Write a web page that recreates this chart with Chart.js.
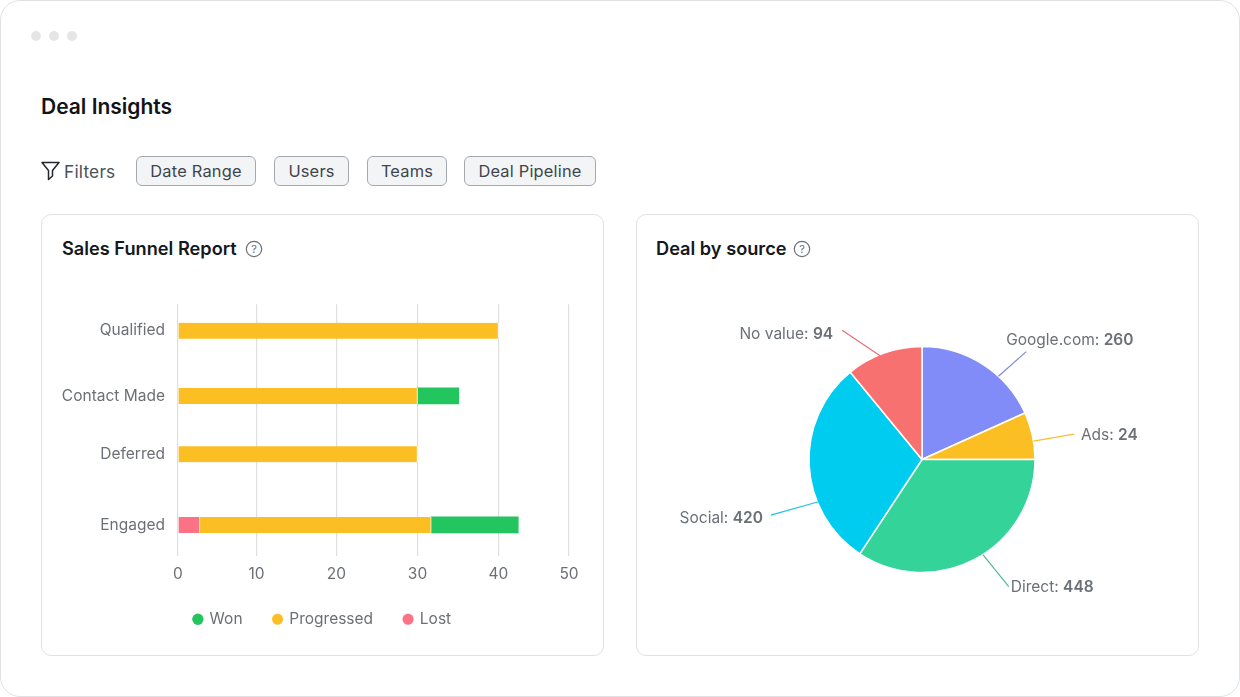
<!DOCTYPE html>
<html>
<head>
<meta charset="utf-8">
<title>Deal Insights</title>
<script src="https://cdn.jsdelivr.net/npm/chart.js@4"></script>
<style>
    html, body { margin: 0; padding: 0; background: #fff; }
    body { width: 1240px; height: 697px; position: relative; overflow: hidden; font-family: Inter, sans-serif; }
    .window { position: absolute; left: 0; top: 0; width: 1238px; height: 695px; border: 1px solid #dfe1e3; border-radius: 20px; }
    .dot { position: absolute; top: 31px; width: 10px; height: 10px; border-radius: 50%; background: #e5e5e5; }
    h1 { position: absolute; left: 41px; top: 94px; margin: 0; font-size: 21px; line-height: 26px; font-weight: 600; color: #111418; }
    .filters { position: absolute; left: 64px; top: 161px; font-size: 17.3px; line-height: 22px; color: #4b5158; letter-spacing: .2px; }
    .filtro { position: absolute; top: 156px; height: 30px; box-sizing: border-box; border: 1px solid #a4a9ae; border-radius: 6px; background: #f3f4f6; font-size: 16.4px; line-height: 29px; text-align: center; color: #3f454c; letter-spacing: .2px; }
    .card { position: absolute; top: 214px; width: 561px; height: 440px; border: 1px solid #dfe1e3; border-radius: 10px; }
    h2 { position: absolute; top: 237px; margin: 0; font-size: 18.2px; line-height: 22px; font-weight: 600; color: #15181c; }
    canvas { position: absolute; }
</style>
</head>
<body>
<div class="window"></div>
<div class="dot" style="left:31px"></div>
<div class="dot" style="left:49px"></div>
<div class="dot" style="left:67px"></div>

<h1>Deal Insights</h1>

<svg style="position:absolute;left:41px;top:161px" width="19" height="20" viewBox="0 0 19 20">
    <path d="M1 1.5H18L11.5 9.5V15L7.5 18.5V9.5Z" fill="none" stroke="#23272c" stroke-width="1.5" stroke-linejoin="round"/>
</svg>
<div class="filters">Filters</div>
<div class="filtro" style="left:136px;width:120px">Date Range</div>
<div class="filtro" style="left:274px;width:75px">Users</div>
<div class="filtro" style="left:367px;width:80px">Teams</div>
<div class="filtro" style="left:464px;width:132px">Deal Pipeline</div>

<div class="card" style="left:41px"></div>
<div class="card" style="left:636px"></div>

<h2 style="left:62px">Sales Funnel Report</h2>
<svg style="position:absolute;left:245px;top:240px" width="18" height="18" viewBox="0 0 18 18">
    <circle cx="9" cy="9" r="7.7" fill="none" stroke="#6b7076" stroke-width="1.2"/>
    <text x="9" y="13" font-size="11" text-anchor="middle" fill="#6b7076">?</text>
</svg>
<h2 style="left:656px">Deal by source</h2>
<svg style="position:absolute;left:793px;top:240px" width="18" height="18" viewBox="0 0 18 18">
    <circle cx="9" cy="9" r="7.7" fill="none" stroke="#6b7076" stroke-width="1.2"/>
    <text x="9" y="13" font-size="11" text-anchor="middle" fill="#6b7076">?</text>
</svg>

<canvas id="funnelChart" style="left:44px;top:282px;width:556px;height:363px" width="556" height="363"></canvas>
<canvas id="sourceChart" style="left:641px;top:290px;width:562px;height:339px" width="562" height="339"></canvas>

<script>
// ============================
// 1. Datos
// ============================
const etapas = ['Qualified', 'Contact Made', 'Deferred', 'Engaged'];
const lost = [null, null, null, 2.8];
const progressed = [40, 30, 30, 28.9];
const won = [null, 5.1, null, 11.1];

const fuentes = ['Google.com', 'Ads', 'Direct', 'Social', 'No value'];
const fuenteEtiquetas = [260, 24, 448, 420, 94];   // lo que dice el texto
const fuenteGrados = [65.7, 24.3, 123.4, 107.2, 39.4];   // lo que mide cada porción en el dibujo

const ticksX = [0, 10, 20, 30, 40, 50];

const colorTexto = '#6b7076';
const fuente = 'Inter, sans-serif';

// ============================
// 2. Escalas con paradas (los ejes del original no son uniformes)
// ============================
function pixelConParadas(scale, value) {
    const paradas = scale.options.paradas;
    let i = 0;
    while (i < paradas.length - 2 && value > paradas[i + 1][0]) i++;
    const a = paradas[i], b = paradas[i + 1];
    const t = (value - a[0]) / (b[0] - a[0]);
    const inicio = scale.isHorizontal() ? scale.left : scale.top;
    const largo = scale.isHorizontal() ? scale.width : scale.height;
    return inicio + largo * (a[1] + (b[1] - a[1]) * t);
}

class LinealParadas extends Chart.LinearScale {
    getPixelForValue(value) { return pixelConParadas(this, value); }
}
LinealParadas.id = 'linealParadas';
LinealParadas.defaults = Chart.LinearScale.defaults;

class CategoriaParadas extends Chart.CategoryScale {
    getPixelForValue(value) {
        if (typeof value !== 'number') value = this.parse(value);
        return pixelConParadas(this, value);
    }
}
CategoriaParadas.id = 'categoriaParadas';
CategoriaParadas.defaults = Chart.CategoryScale.defaults;

Chart.register(LinealParadas, CategoriaParadas);

// ============================
// 3. Sales Funnel Report
// ============================
const bordeSegmento = { top: 0, bottom: 0, left: 0, right: 1 };

// La leyenda del original no está centrada en el área del gráfico
const moverLeyenda = {
    id: 'moverLeyenda',
    afterLayout(chart) {
        chart.legend.left += 16;
        chart.legend.right += 16;
    }
};

new Chart(document.getElementById('funnelChart'), {
    type: 'bar',
    data: {
        labels: etapas,
        datasets: [
            { label: 'Lost', data: lost, backgroundColor: '#fb7185', borderWidth: bordeSegmento },
            { label: 'Progressed', data: progressed, backgroundColor: '#fbbf24', borderWidth: bordeSegmento },
            { label: 'Won', data: won, backgroundColor: '#22c55e', borderWidth: 0 }
        ]
    },
    options: {
        indexAxis: 'y',
        responsive: false,
        animation: false,
        layout: { padding: { top: 8, right: 31, bottom: 8, left: 0 } },
        datasets: {
            bar: {
                barThickness: 16,
                borderColor: '#ffffff',
                borderSkipped: false
            }
        },
        scales: {
            x: {
                type: 'linealParadas',
                stacked: true,
                min: 0,
                max: 50,
                // valor y fracción del ancho medidos en el original
                paradas: [[0, 0], [10, 0.2008], [20, 0.4049], [30, 0.6125], [40, 0.8197], [50, 1]],
                afterBuildTicks: (axis) => { axis.ticks = ticksX.map((value) => ({ value })); },
                afterFit: (axis) => { axis.height -= 12; },
                grid: { color: '#dddfe1', lineWidth: 1.2, drawTicks: false },
                border: { display: false },
                ticks: { color: colorTexto, padding: 9, font: { family: fuente, size: 15.5 } }
            },
            y: {
                type: 'categoriaParadas',
                stacked: true,
                paradas: [[0, 0.105], [1, 0.364], [2, 0.596], [3, 0.877]],
                afterFit: (axis) => { axis.width = 134; },
                grid: { display: false, drawTicks: false },
                border: { display: false },
                ticks: { color: colorTexto, padding: 13, font: { family: fuente, size: 15.5 } }
            }
        },
        plugins: {
            tooltip: { enabled: false },
            legend: {
                position: 'bottom',
                reverse: true,
                labels: {
                    usePointStyle: true,
                    pointStyle: 'circle',
                    boxWidth: 8,
                    boxHeight: 8,
                    padding: 31,
                    color: colorTexto,
                    font: { family: fuente, size: 15.5 }
                }
            }
        }
    },
    plugins: [moverLeyenda]
});

// ============================
// 4. Deal by source
// ============================
const coloresFuente = ['#818cf8', '#fbbf24', '#34d399', '#00ccf0', '#f87171'];
const coloresGuia = ['#7f88d8', '#f5c02f', '#4fb89a', '#1fc3dc', '#e0707a'];

// guía: ángulo desde arriba y radios; texto: desplazamiento desde el final de la guía
const guias = [
    { ini: 42.6, fin: 44, r0: 113, r1: 150, dx: -20, dy: -11, align: 'left' },
    { ini: 80.6, fin: 80.5, r0: 113, r1: 154, dx: 7, dy: 1, align: 'left' },
    { ini: 147.4, fin: 145.7, r0: 113, r1: 154, dx: 2, dy: 1, align: 'left' },
    { ini: 247.7, fin: 249.8, r0: 110, r1: 161, dx: -8, dy: 3, align: 'right' },
    { ini: 338, fin: 328.3, r0: 112, r1: 152, dx: -9, dy: 4, align: 'right' }
];

const etiquetasPastel = {
    id: 'etiquetasPastel',
    afterDatasetsDraw(chart) {
        const arco = chart.getDatasetMeta(0).data[0];
        const cx = arco.x, cy = arco.y;
        const punto = (grados, radio) => {
            const rad = grados * Math.PI / 180;
            return [cx + radio * Math.sin(rad), cy - radio * Math.cos(rad)];
        };
        const ctx = chart.ctx;
        ctx.save();
        fuentes.forEach((nombre, i) => {
            const g = guias[i];
            const a = punto(g.ini, g.r0);
            const b = punto(g.fin, g.r1);
            ctx.strokeStyle = coloresGuia[i];
            ctx.lineWidth = 1.2;
            ctx.beginPath();
            ctx.moveTo(a[0], a[1]);
            ctx.lineTo(b[0], b[1]);
            ctx.stroke();

            const normal = nombre + ': ';
            const negrita = String(fuenteEtiquetas[i]);
            const fNormal = '400 15.5px ' + fuente;
            const fNegrita = '600 15.5px ' + fuente;
            ctx.font = fNormal;
            const anchoNormal = ctx.measureText(normal).width;
            ctx.font = fNegrita;
            const anchoNegrita = ctx.measureText(negrita).width;
            let x = b[0] + g.dx;
            if (g.align === 'right') x -= anchoNormal + anchoNegrita;
            const y = b[1] + g.dy;
            ctx.textAlign = 'left';
            ctx.textBaseline = 'middle';
            ctx.fillStyle = colorTexto;
            ctx.font = fNormal;
            ctx.fillText(normal, x, y);
            ctx.font = fNegrita;
            ctx.fillText(negrita, x + anchoNormal, y);
        });
        ctx.restore();
    }
};

new Chart(document.getElementById('sourceChart'), {
    type: 'pie',
    data: {
        labels: fuentes,
        datasets: [{
            data: fuenteGrados,
            backgroundColor: coloresFuente,
            borderColor: '#ffffff',
            borderWidth: 1.5
        }]
    },
    options: {
        responsive: false,
        animation: false,
        radius: 113,
        plugins: {
            legend: { display: false },
            tooltip: { enabled: false }
        }
    },
    plugins: [etiquetasPastel]
});
</script>
</body>
</html>
